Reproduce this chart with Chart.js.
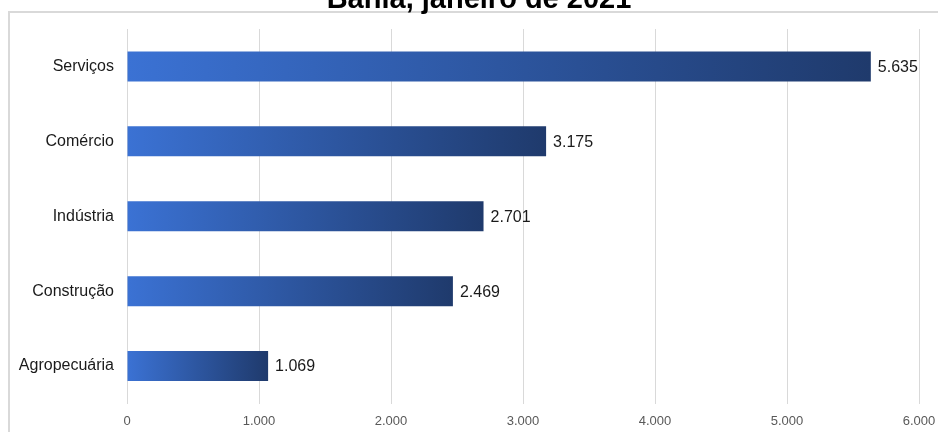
<!DOCTYPE html>
<html>
<head>
<meta charset="utf-8">
<script src="https://cdn.jsdelivr.net/npm/chart.js@4/dist/chart.umd.min.js"></script>
<style>
  html, body { margin: 0; padding: 0; background: #fff; }
  #wrap { position: relative; width: 938px; height: 432px; }
</style>
</head>
<body>
<div id="wrap"><canvas id="myChart" width="938" height="432"></canvas></div>
<script>
// dados
var titulo = 'Bahia, janeiro de 2021';
var setores = ['Serviços', 'Comércio', 'Indústria', 'Construção', 'Agropecuária'];
var valores = [5635, 3175, 2701, 2469, 1069];
var eixoMax = 6000;
var eixoPasso = 1000;

function fmt(n){
	return String(Math.round(n)).replace(/\B(?=(\d{3})+(?!\d))/g, '.');
}

// moldura + titulo cortado no topo
var moldura = {
	id: 'moldura',
	beforeDraw: function(chart){
		var c = chart.ctx;
		c.save();
		c.fillStyle = '#fff';
		c.fillRect(0, 0, chart.width, chart.height);
		c.strokeStyle = '#d9d9d9';
		c.lineWidth = 2;
		c.strokeRect(9, 12, chart.width + 20, chart.height + 20);
		c.fillStyle = '#000';
		c.font = 'bold 29px "Liberation Sans", Arial, sans-serif';
		c.textAlign = 'center';
		c.textBaseline = 'alphabetic';
		c.fillText(titulo, 479, 8);
		c.restore();
	}
};

// rotulos no fim das barras
var rotulos = {
	id: 'rotulos',
	afterDatasetsDraw: function(chart){
		var c = chart.ctx;
		var meta = chart.getDatasetMeta(0);
		c.save();
		c.fillStyle = '#1a1a1a';
		c.font = '16px "Liberation Sans", Arial, sans-serif';
		c.textAlign = 'left';
		c.textBaseline = 'middle';
		meta.data.forEach(function(bar, i){
			c.fillText(fmt(valores[i]), bar.x + 7, bar.y + 1);
		});
		c.restore();
	}
};

var ctx = document.getElementById('myChart').getContext('2d');
var myChart = new Chart(ctx, {
	type: 'bar',
	data: {
		labels: setores,
		datasets: [{
			data: valores,
			barPercentage: 0.4,
			categoryPercentage: 1,
			borderWidth: 0,
			backgroundColor: function(context){
				var chart = context.chart;
				if (!chart.chartArea || !chart.scales.x) return '#3a6fcf';
				var x = chart.scales.x;
				var x0 = x.getPixelForValue(0);
				var x1 = x.getPixelForValue(context.raw);
				if (!isFinite(x1) || x1 <= x0) return '#3a6fcf';
				var g = chart.ctx.createLinearGradient(x0, 0, x1, 0);
				g.addColorStop(0, '#3b72d4');
				g.addColorStop(1, '#1f3a6c');
				return g;
			}
		}]
	},
	options: {
		indexAxis: 'y',
		responsive: false,
		animation: false,
		layout: { padding: { top: 29, right: 19, left: 0, bottom: 0 } },
		plugins: {
			legend: { display: false },
			tooltip: { enabled: false },
			title: { display: false }
		},
		scales: {
			x: {
				min: 0,
				max: eixoMax,
				border: { display: false },
				grid: { color: '#d9d9d9', lineWidth: 1, drawTicks: false },
				ticks: {
					stepSize: eixoPasso,
					padding: 10,
					color: '#595959',
					font: { family: '"Liberation Sans", Arial, sans-serif', size: 13 },
					callback: function(v){ return fmt(v); }
				},
				afterFit: function(s){
					s.height = 28.5;
					s.paddingLeft = 0;
					s.paddingRight = 0;
				}
			},
			y: {
				border: { display: false },
				grid: { display: false, drawTicks: false },
				ticks: {
					padding: 13,
					color: '#1a1a1a',
					font: { family: '"Liberation Sans", Arial, sans-serif', size: 16 }
				},
				afterFit: function(s){ s.width = 127; }
			}
		}
	},
	plugins: [moldura, rotulos]
});
</script>
</body>
</html>
